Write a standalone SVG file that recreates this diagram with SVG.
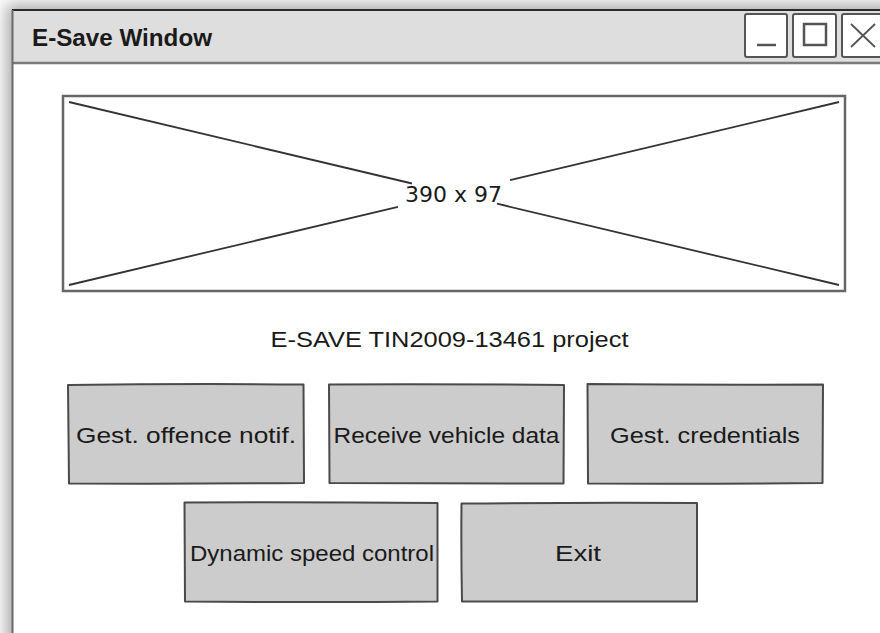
<svg xmlns="http://www.w3.org/2000/svg" width="880" height="633" viewBox="0 0 880 633">
  <defs>
    <filter id="winShadow" filterUnits="userSpaceOnUse" x="-40" y="-40" width="960" height="720">
      <feGaussianBlur stdDeviation="8"/>
    </filter>
  </defs>
  <style>
    .btn { fill: #cccccc; stroke: #4a4a4a; stroke-width: 2; stroke-linejoin: round; }
    .btn-label { font-family: "Liberation Sans", Arial, sans-serif; font-size: 22px; fill: #1a1a1a; text-anchor: middle; }
    .ctl { fill: #ffffff; stroke: #555555; stroke-width: 2; }
    .glyph { fill: none; stroke: #555555; stroke-width: 2.5; }
  </style>

  <rect width="880" height="633" fill="#ffffff"/>

  <!-- window frame with soft shadow -->
  <g id="window">
    <rect x="6" y="4" width="900" height="660" fill="#aaaaaa" filter="url(#winShadow)"/>
    <rect x="12" y="10" width="880" height="650" fill="#ffffff"/>
    <rect x="12" y="10" width="880" height="53" fill="#dedede"/>
    <line x1="12" y1="63" x2="880" y2="63" stroke="#7a7a7a" stroke-width="2.5"/>
    <line x1="12" y1="10" x2="880" y2="10" stroke="#2a2a2a" stroke-width="2"/>
    <line x1="12.5" y1="10" x2="12.5" y2="633" stroke="#6a6a6a" stroke-width="2"/>
    <text x="32" y="46" font-family="Liberation Sans, Arial, sans-serif" font-weight="bold" font-size="23" fill="#1a1a1a" textLength="180" lengthAdjust="spacingAndGlyphs">E-Save Window</text>
  </g>

  <!-- title bar controls -->
  <g id="minimize">
    <rect class="ctl" x="745" y="14" width="42" height="43" rx="2"/>
    <line class="glyph" x1="757" y1="45" x2="776" y2="45"/>
  </g>
  <g id="maximize">
    <rect class="ctl" x="793" y="14" width="43" height="43" rx="2"/>
    <rect class="glyph" x="804" y="24" width="22" height="21"/>
  </g>
  <g id="close">
    <rect class="ctl" x="842" y="14" width="44" height="43" rx="2"/>
    <line x1="851" y1="24" x2="875" y2="47" stroke="#555555" stroke-width="1.8"/>
    <line x1="851" y1="47" x2="875" y2="24" stroke="#555555" stroke-width="1.8"/>
  </g>

  <!-- image placeholder -->
  <g id="image-placeholder">
    <rect x="63" y="96" width="782" height="195" fill="#ffffff" stroke="#666666" stroke-width="2.5"/>
    <g stroke="#333333" stroke-width="1.8">
      <line x1="69" y1="102" x2="412" y2="183.5"/>
      <line x1="497" y1="203.7" x2="839" y2="285"/>
      <line x1="69" y1="285" x2="398" y2="206.8"/>
      <line x1="510" y1="180.2" x2="839" y2="102"/>
    </g>
    <text x="453.5" y="202" font-family="DejaVu Sans, Verdana, sans-serif" font-size="22" fill="#1a1a1a" text-anchor="middle" textLength="97" lengthAdjust="spacingAndGlyphs">390 x 97</text>
  </g>

  <!-- caption -->
  <g id="caption">
    <text x="449.5" y="347" font-family="Liberation Sans, Arial, sans-serif" font-size="22" fill="#1a1a1a" text-anchor="middle" textLength="358" lengthAdjust="spacingAndGlyphs">E-SAVE TIN2009-13461 project</text>
  </g>

  <!-- menu buttons -->
  <g id="btn-offence">
    <path class="btn" d="M68.5 385 Q186 383.5 303.5 384.5 L304 483 Q186 484 69 483.5 L68 385 Z"/>
    <text class="btn-label" x="186" y="443" textLength="220" lengthAdjust="spacingAndGlyphs">Gest. offence notif.</text>
  </g>
  <g id="btn-vehicle">
    <path class="btn" d="M329 384.5 Q447 384 564 385 L563.5 483.5 Q447 483 329.5 483 L329 384.5 Z"/>
    <text class="btn-label" x="446.5" y="443" textLength="226" lengthAdjust="spacingAndGlyphs">Receive vehicle data</text>
  </g>
  <g id="btn-credentials">
    <path class="btn" d="M587.5 384 Q705 385 823 384.5 L822.5 483 Q705 484 588 483.5 L587.5 384 Z"/>
    <text class="btn-label" x="705" y="443" textLength="190" lengthAdjust="spacingAndGlyphs">Gest. credentials</text>
  </g>
  <g id="btn-speed">
    <path class="btn" d="M184.5 502.5 Q311 502 437.5 503 L437.5 601.5 Q311 602.5 185 601.5 L184.5 502.5 Z"/>
    <text class="btn-label" x="312" y="561" textLength="244" lengthAdjust="spacingAndGlyphs">Dynamic speed control</text>
  </g>
  <g id="btn-exit">
    <path class="btn" d="M461.5 503.5 Q579 502.5 697 503 L697 601.5 Q579 602 462 601.5 Q461 552 461.5 503.5 Z"/>
    <text class="btn-label" x="578" y="561" textLength="46" lengthAdjust="spacingAndGlyphs">Exit</text>
  </g>
</svg>
